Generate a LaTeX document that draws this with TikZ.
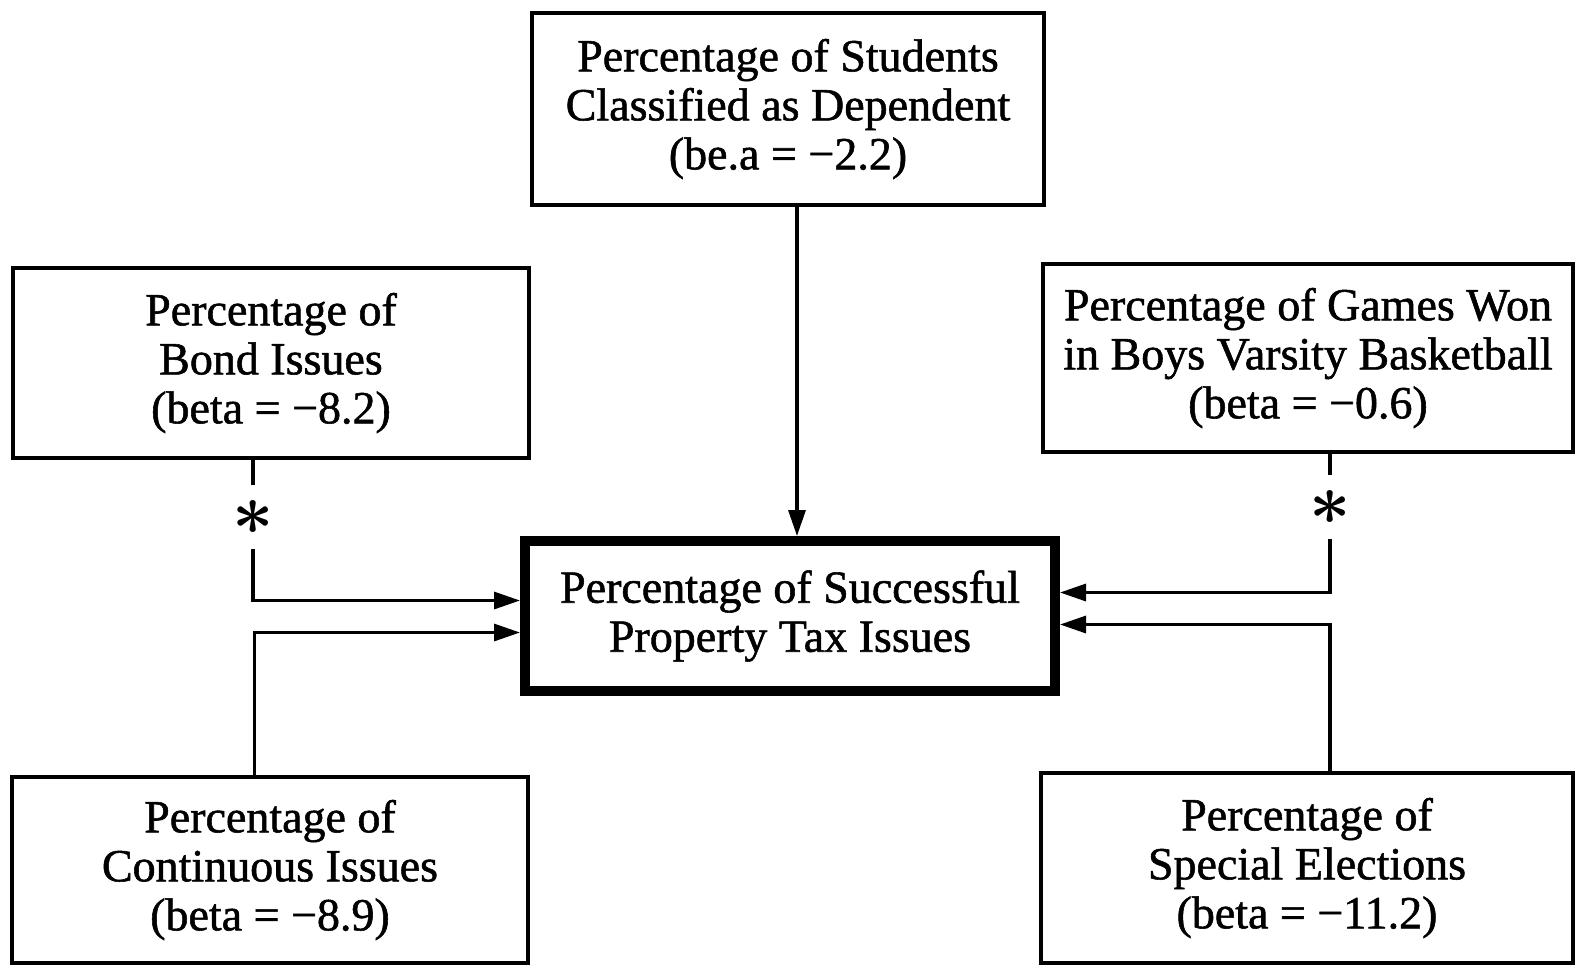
\documentclass[tikz,border=0pt]{standalone}
\usepackage{fontspec}
\setmainfont{Liberation Serif}
\newfontfamily\boxfont{Liberation Serif}[FakeBold=1.2]
\usetikzlibrary{arrows.meta}
\tikzset{every picture/.style={line width=1.6pt}}

\begin{document}
\begin{tikzpicture}[x=0.5pt,y=0.5pt,yscale=-1,xscale=1,
	box/.style={draw, align=center, inner sep=0pt, font=\boxfont\fontsize{23}{24.5}\selectfont},
	mainbox/.style={box, line width=5pt},
	star/.style={inner sep=0pt, minimum width=30pt, minimum height=30pt},
	arr/.style={-{Triangle[length=13pt,width=8.5pt]}}]
	\useasboundingbox (0,0) rectangle (1576,966);

	\node [box, minimum width=256pt, minimum height=96pt] (dep) at (788,109) {Percentage of Students\\Classified as Dependent\\(be.a = −2.2)};
	\node [box, minimum width=258pt, minimum height=95pt] (bond) at (271,363) {Percentage of\\Bond Issues\\(beta = −8.2)};
	\node [box, minimum width=265pt, minimum height=94pt] (games) at (1308,358) {Percentage of Games Won\\in Boys Varsity Basketball\\(beta = −0.6)};
	\node [mainbox, minimum width=265pt, minimum height=75pt] (succ) at (790,616) {Percentage of Successful\\Property Tax Issues};
	\node [box, minimum width=258pt, minimum height=93pt] (cont) at (270,870) {Percentage of\\Continuous Issues\\(beta = −8.9)};
	\node [box, minimum width=266pt, minimum height=95pt] (spec) at (1307,868) {Percentage of\\Special Elections\\(beta = −11.2)};

	\node [star] (astl) at (253,517) {\scalebox{3.6}{\boldmath$\ast$}};
	\node [star] (astr) at (1330,507) {\scalebox{3.6}{\boldmath$\ast$}};

	\draw [arr] ([xshift=4.5pt]dep.south) -- ([xshift=4.5pt]dep.south |- succ.north);
	\draw (bond.south -| astl) -- (astl.north);
	\draw [arr] (astl.south) |- ([yshift=-7.75pt]succ.west);
	\draw [arr] ([xshift=-7.75pt]cont.north) |- ([yshift=8.25pt]succ.west);
	\draw (games.south -| astr) -- (astr.north);
	\draw [arr] (astr.south) |- ([yshift=-11.75pt]succ.east);
	\draw [arr] ([xshift=11.5pt]spec.north) |- ([yshift=4.25pt]succ.east);
\end{tikzpicture}
\end{document}
